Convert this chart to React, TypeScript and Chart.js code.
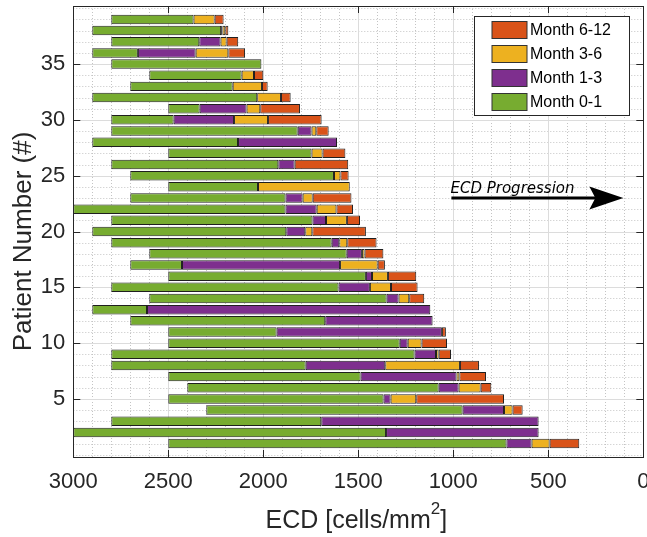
import React, { useEffect, useRef } from 'react';
import { Chart, registerables } from 'chart.js';

Chart.register(...registerables);

// ---- DATA ----
const patients = [
  1, 2, 3, 4, 5, 6, 7, 8, 9, 10, 11, 12, 13, 14, 15, 16, 17, 18, 19, 20,
  21, 22, 23, 24, 25, 26, 27, 28, 29, 30, 31, 32, 33, 34, 35, 36, 37, 38, 39,
];
// ECD at baseline (month 0)
const ecdMonth0 = [
  2500, 3000, 2800, 2300, 2500, 2400, 2500, 2800, 2800, 2500, 2500, 2700, 2900, 2600, 2800, 2500, 2700, 2600, 2800, 2900,
  2800, 3000, 2700, 2500, 2700, 2800, 2500, 2900, 2800, 2800, 2500, 2900, 2700, 2600, 2800, 2900, 2800, 2900, 2800,
];
// ECD at month 1
const ecdMonth1 = [
  720, 1354, 1695, 951, 1367, 1077, 1488, 1777, 1204, 1282, 1930, 1674, 2612, 1351, 1604, 1460, 2428, 1561, 1640, 1879,
  1741, 1883, 1883, 2028, 1628, 1921, 1746, 2133, 1819, 2472, 2335, 2032, 2161, 2114, 2010, 2660, 2337, 2222, 2367,
];
// ECD at month 3
const ecdMonth3 = [
  588, 551, 551, 733, 1330, 972, 983, 1358, 1091, 1240, 1060, 1109, 1121, 1288, 1439, 1428, 1596, 1481, 1600, 1779,
  1670, 1719, 1793, 2028, 1628, 1835, 1746, 1612, 1746, 2154, 2088, 2032, 2161, 2114, 2010, 2356, 2225, 2215, 2367,
];
// ECD at month 6
const ecdMonth6 = [
  493, 551, 551, 688, 1195, 856, 968, 965, 1077, 1167, 1060, 1109, 1121, 1232, 1328, 1344, 1398, 1467, 1558, 1742,
  1560, 1615, 1740, 1545, 1594, 1835, 1688, 1612, 1721, 1975, 2016, 1907, 2007, 2049, 2010, 2184, 2193, 2200, 2256,
];
// ECD at month 12
const ecdMonth12 = [
  337, 551, 551, 635, 733, 800, 828, 865, 1012, 1033, 1039, 1109, 1121, 1153, 1188, 1195, 1360, 1368, 1404, 1460,
  1491, 1528, 1536, 1545, 1551, 1553, 1568, 1612, 1656, 1693, 1807, 1856, 1977, 2000, 2010, 2096, 2132, 2184, 2209,
];

const seriesNames = ['Month 0-1', 'Month 1-3', 'Month 3-6', 'Month 6-12'];
const seriesColors = ['#77AC30', '#7E2F8E', '#EDB120', '#D95319'];
const xTicks = [0, 500, 1000, 1500, 2000, 2500, 3000];
const yTicks = [5, 10, 15, 20, 25, 30, 35];
const arrowLabel = 'ECD Progression';
const xTitle = 'ECD [cells/mm';
const xTitleSup = '2';
const yTitle = 'Patient Number (#)';

const FONT = "'Liberation Sans', Arial, Helvetica, sans-serif";
const AX = '#262626';

function segment(from: number[], to: number[]) {
  return patients.map((p, i) => ({
    y: p,
    x: from[i] !== to[i] ? [from[i], to[i]] : null,
  }));
}

const overlayPlugin = {
  id: 'matlabLook',
  beforeDatasetsDraw(chart: any) {
    const { ctx, chartArea: a, scales } = chart;
    const x = scales.x;
    const y = scales.y;
    ctx.save();
    ctx.lineWidth = 1;
    // minor dotted grid
    ctx.strokeStyle = '#c4c4c4';
    ctx.setLineDash([1, 2]);
    ctx.beginPath();
    for (let v = 100; v < 3000; v += 100) {
      if (v % 500 === 0) continue;
      const px = Math.round(x.getPixelForValue(v)) + 0.5;
      ctx.moveTo(px, a.top);
      ctx.lineTo(px, a.bottom);
    }
    for (let p = 0; p <= 40; p++) {
      if (yTicks.includes(p)) continue;
      const py = Math.round(y.getPixelForValue(p)) + 0.5;
      ctx.moveTo(a.left, py);
      ctx.lineTo(a.right, py);
    }
    ctx.stroke();
    // major solid grid
    ctx.setLineDash([]);
    ctx.strokeStyle = '#dcdcdc';
    ctx.beginPath();
    for (const v of xTicks) {
      if (v === 0 || v === 3000) continue;
      const px = Math.round(x.getPixelForValue(v)) + 0.5;
      ctx.moveTo(px, a.top);
      ctx.lineTo(px, a.bottom);
    }
    for (const p of yTicks) {
      const py = Math.round(y.getPixelForValue(p)) + 0.5;
      ctx.moveTo(a.left, py);
      ctx.lineTo(a.right, py);
    }
    ctx.stroke();
    ctx.restore();
  },
  afterDatasetsDraw(chart: any) {
    const { ctx, chartArea: a, scales } = chart;
    const x = scales.x;
    const y = scales.y;
    ctx.save();
    // box
    ctx.strokeStyle = AX;
    ctx.lineWidth = 1;
    ctx.strokeRect(Math.round(a.left) + 0.5, Math.round(a.top) + 0.5, Math.round(a.right - a.left), Math.round(a.bottom - a.top));
    // inward ticks
    const tl = 7;
    ctx.beginPath();
    for (const v of xTicks) {
      const px = Math.round(x.getPixelForValue(v)) + 0.5;
      ctx.moveTo(px, a.bottom);
      ctx.lineTo(px, a.bottom - tl);
      ctx.moveTo(px, a.top);
      ctx.lineTo(px, a.top + tl);
    }
    for (const p of yTicks) {
      const py = Math.round(y.getPixelForValue(p)) + 0.5;
      ctx.moveTo(a.left, py);
      ctx.lineTo(a.left + tl, py);
      ctx.moveTo(a.right, py);
      ctx.lineTo(a.right - tl, py);
    }
    ctx.stroke();

    // annotation arrow (data coords)
    const tailX = x.getPixelForValue(1010);
    const tipX = x.getPixelForValue(105);
    const ay = y.getPixelForValue(23);
    ctx.strokeStyle = '#000';
    ctx.fillStyle = '#000';
    ctx.lineWidth = 3;
    ctx.beginPath();
    ctx.moveTo(tailX, ay);
    ctx.lineTo(tipX - 25, ay);
    ctx.stroke();
    ctx.beginPath();
    ctx.moveTo(tipX, ay);
    ctx.lineTo(tipX - 34, ay - 11.5);
    ctx.lineTo(tipX - 28, ay);
    ctx.lineTo(tipX - 34, ay + 11.5);
    ctx.closePath();
    ctx.fill();
    ctx.font = "italic 15px 'DejaVu Sans', sans-serif";
    ctx.textAlign = 'left';
    ctx.textBaseline = 'alphabetic';
    ctx.fillText(arrowLabel, x.getPixelForValue(1015), y.getPixelForValue(23.48));

    // legend
    const lw = 155;
    const lh = 99;
    const lx = Math.round(a.right - 14 - lw) + 0.5;
    const ly = Math.round(a.top + 10) + 0.5;
    ctx.fillStyle = '#fff';
    ctx.fillRect(lx, ly, lw, lh);
    ctx.strokeStyle = AX;
    ctx.lineWidth = 1;
    ctx.strokeRect(lx, ly, lw, lh);
    ctx.font = `16px ${FONT}`;
    ctx.textBaseline = 'middle';
    for (let k = 0; k < 4; k++) {
      const di = 3 - k;
      const sy = ly + 5 + k * 24;
      ctx.fillStyle = seriesColors[di];
      ctx.fillRect(lx + 17.5, sy, 35, 17);
      ctx.strokeStyle = '#333';
      ctx.strokeRect(lx + 17.5, sy, 35, 17);
      ctx.fillStyle = '#000';
      ctx.fillText(seriesNames[di], lx + 55.5, sy + 9);
    }

    // x title with superscript
    ctx.fillStyle = AX;
    ctx.textBaseline = 'alphabetic';
    ctx.font = `25px ${FONT}`;
    const w1 = ctx.measureText(xTitle).width;
    const w3 = ctx.measureText(']').width;
    ctx.font = `17px ${FONT}`;
    const w2 = ctx.measureText(xTitleSup).width;
    const cx = (a.left + a.right) / 2 - 2;
    let tx = cx - (w1 + w2 + w3) / 2;
    const base = a.bottom + 71;
    ctx.font = `25px ${FONT}`;
    ctx.fillText(xTitle, tx, base);
    tx += w1;
    ctx.font = `17px ${FONT}`;
    ctx.fillText(xTitleSup, tx, base - 14);
    tx += w2;
    ctx.font = `25px ${FONT}`;
    ctx.fillText(']', tx, base);

    // y title
    ctx.save();
    ctx.translate(31, (a.top + a.bottom) / 2 + 10);
    ctx.rotate(-Math.PI / 2);
    ctx.font = `26px ${FONT}`;
    ctx.textAlign = 'center';
    ctx.textBaseline = 'alphabetic';
    ctx.fillText(yTitle, 0, 0);
    ctx.restore();

    ctx.restore();
  },
};

export default function App() {
  const ref = useRef<HTMLCanvasElement>(null);
  useEffect(() => {
    if (!ref.current) return;
    const bounds = [ecdMonth0, ecdMonth1, ecdMonth3, ecdMonth6, ecdMonth12];
    const datasets = seriesNames.map((name, k) => ({
      label: name,
      data: segment(bounds[k], bounds[k + 1]),
      backgroundColor: seriesColors[k],
      borderColor: '#1f1f1f',
      borderWidth: 1,
      borderSkipped: false,
      grouped: false,
      barPercentage: 0.85,
      categoryPercentage: 1,
    }));
    const chart = new Chart(ref.current, {
      type: 'bar',
      data: { datasets: datasets as any },
      options: {
        animation: false,
        responsive: false,
        devicePixelRatio: 1,
        indexAxis: 'y',
        layout: { padding: { top: 6, left: 0, right: 16.7, bottom: 0 } },
        plugins: { legend: { display: false }, tooltip: { enabled: false } },
        scales: {
          x: {
            type: 'linear',
            reverse: true,
            min: 0,
            max: 3000,
            offset: false,
            grid: { display: false, drawTicks: false },
            border: { display: false },
            afterBuildTicks: (s: any) => {
              s.ticks = xTicks.map((v) => ({ value: v }));
            },
            afterFit: (s: any) => {
              s.height = 80;
              s.paddingLeft = 0;
              s.paddingRight = 0;
            },
            ticks: {
              font: { size: 22, family: FONT },
              color: AX,
              padding: 12,
              maxRotation: 0,
              autoSkip: false,
              callback: (v: any) => String(v),
            },
          },
          y: {
            type: 'linear',
            min: -0.2,
            max: 40.2,
            offset: false,
            grid: { display: false, drawTicks: false },
            border: { display: false },
            afterBuildTicks: (s: any) => {
              s.ticks = yTicks.map((v) => ({ value: v }));
            },
            afterFit: (s: any) => {
              s.width = 73.3;
              s.paddingTop = 0;
              s.paddingBottom = 0;
            },
            ticks: {
              font: { size: 22, family: FONT },
              color: AX,
              padding: 8,
              autoSkip: false,
              callback: (v: any) => String(v),
            },
          },
        },
      },
      plugins: [overlayPlugin],
    });
    return () => chart.destroy();
  }, []);
  return (
    <div style={{ position: 'fixed', left: 0, top: 0, width: 647, height: 537, overflow: 'hidden', background: '#fff' }}>
      <canvas ref={ref} width={660} height={537} style={{ display: 'block', width: 660, height: 537 }} />
    </div>
  );
}
